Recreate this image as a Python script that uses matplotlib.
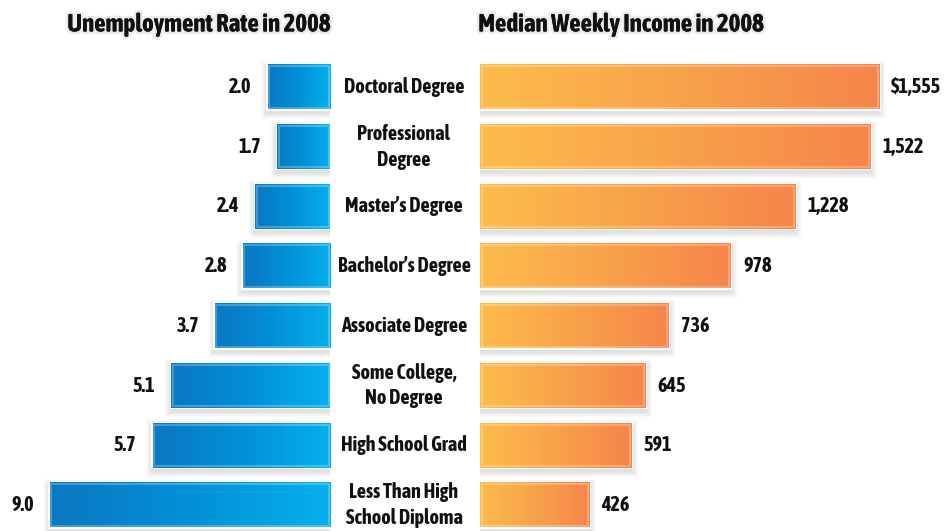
import numpy as np
import matplotlib
matplotlib.use("Agg")
import matplotlib.pyplot as plt
import matplotlib.transforms as mtransforms
import matplotlib.patheffects as pe
from matplotlib.colors import LinearSegmentedColormap
from matplotlib.patches import Rectangle

plt.rcParams["font.family"] = ["Asap Condensed", "DejaVu Sans"]
plt.rcParams["font.weight"] = "bold"

categories = ["Doctoral Degree", "Professional\nDegree", "Master’s Degree",
              "Bachelor’s Degree", "Associate Degree", "Some College,\nNo Degree",
              "High School Grad", "Less Than High\nSchool Diploma"]
unemployment = [2.0, 1.7, 2.4, 2.8, 3.7, 5.1, 5.7, 9.0]
income = [1555, 1522, 1228, 978, 736, 645, 591, 426]
income_labels = ["$1,555", "1,522", "1,228", "978", "736", "645", "591", "426"]

W, H = 944, 531
fig = plt.figure(figsize=(W / 100, H / 100), dpi=100)
fig.patch.set_facecolor("white")

blue = LinearSegmentedColormap.from_list("b", ["#0a78c2", "#0290d6", "#06b0ec"])
orange = LinearSegmentedColormap.from_list("o", ["#fdbc4c", "#f8a24a", "#f5854a"])
grad = np.linspace(0, 1, 256).reshape(1, -1)

ylim = (7.435, -1.457)
bar_h = 0.745
py = (ylim[0] - ylim[1]) / H  # data units per pixel (y)
lmax, rmax = 10.6, 1808

axl = fig.add_axes([0, 0, 330 / W, 1])
axr = fig.add_axes([480 / W, 0, 464 / W, 1])
axl.set_xlim(lmax, 0)
axr.set_xlim(0, rmax)
for ax in (axl, axr):
    ax.set_ylim(*ylim)
    ax.axis("off")


def draw_bar(ax, x0, x1, y, cmap, px):
    top, bot = y - bar_h / 2, y + bar_h / 2
    left, width = min(x0, x1), abs(x1 - x0)
    # soft drop shadow, a bit lower than the bar
    for k in range(2, 12):
        ax.add_patch(Rectangle((left - k * 0.6 * px, top - k * 0.6 * py + 3 * py),
                               width + 1.2 * k * px, bar_h + 1.2 * k * py,
                               facecolor="#000000", alpha=0.011, lw=0, zorder=1))
    ax.add_patch(Rectangle((left - 1.5 * px, top - 1.5 * py), width + 3 * px, bar_h + 3 * py,
                           facecolor="white", lw=0, zorder=1.5))
    ax.imshow(grad, extent=(x0, x1, bot, top), cmap=cmap, aspect="auto",
              interpolation="bicubic", zorder=2)
    ax.add_patch(Rectangle((left + 1.5 * px, top + 1.5 * py), width - 3 * px, bar_h - 3 * py,
                           facecolor="none", edgecolor="white", lw=1.5, alpha=0.25, zorder=3))


for i, v in enumerate(unemployment):
    draw_bar(axl, v, 0, i, blue, lmax / 330)
    axl.annotate(f"{v:.1f}", (v, i), xytext=(-16, 0), textcoords="offset pixels",
                 ha="right", va="center", fontsize=14.5, color="#111111")

for i, v in enumerate(income):
    draw_bar(axr, 0, v, i, orange, rmax / 464)
    axr.annotate(income_labels[i], (v, i), xytext=(12, 0), textcoords="offset pixels",
                 ha="left", va="center", fontsize=14.5, color="#111111")

trans = mtransforms.blended_transform_factory(fig.transFigure, axl.transData)
for i, c in enumerate(categories):
    fig.text(404 / W, i, c, transform=trans, ha="center", va="center",
             fontsize=14.5, color="#111111", linespacing=1.35)

glow = [pe.withStroke(linewidth=4, foreground="#ececec"), pe.Normal()]
fig.text(199 / W, 1 - 25 / H, "Unemployment Rate in 2008", ha="center", va="center",
         fontsize=18, color="#111111", path_effects=glow)
fig.text(621 / W, 1 - 25 / H, "Median Weekly Income in 2008", ha="center", va="center",
         fontsize=18, color="#111111", path_effects=glow)

fig.savefig("out.png", dpi=100)
